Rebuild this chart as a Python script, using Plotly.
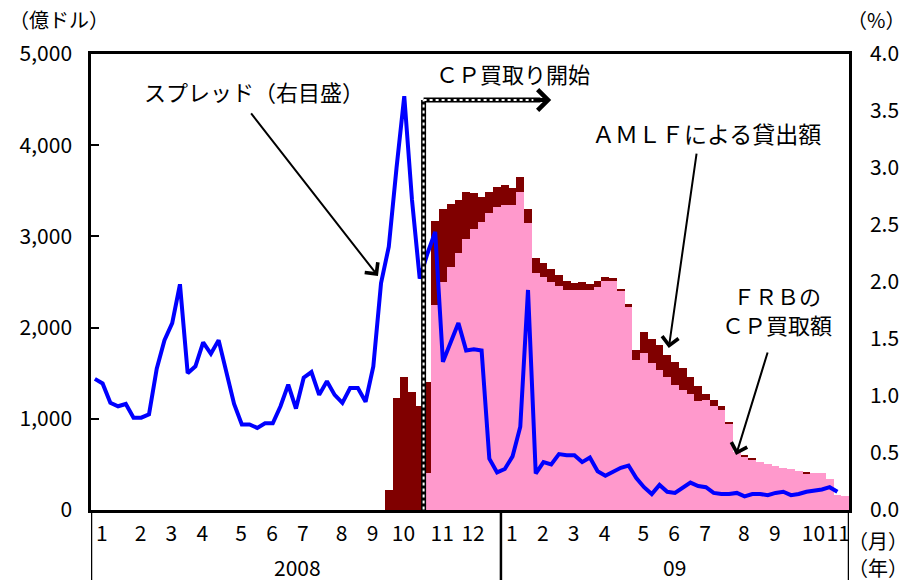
import plotly.graph_objects as go

# weekly data, 2008/1 first week .. 2009/11
weeks = list(range(98))

# FRB CP purchases (億ドル)
cp_frb = [0] * 43 + [
    410, 2250, 2505, 2660, 2820, 2970, 3080, 3155, 3255, 3320,
    3345, 3345, 3490, 3150, 2595, 2550, 2505, 2455, 2410, 2410,
    2410, 2410, 2440, 2510, 2510, 2410, 2230, 1650, 1720, 1610,
    1535, 1460, 1370, 1315, 1275, 1195, 1205, 1140, 1095, 945,
    640, 590, 555, 525, 500, 485, 457, 445, 430, 402,
    402, 402, 335, 160, 155]

# CP purchases + AMLF (億ドル)
total = [0] * 38 + [
    220, 1225, 1455, 1290, 1140,
    1400, 3170, 3300, 3355, 3400, 3490, 3480, 3435, 3490, 3545,
    3565, 3530, 3650, 3300, 2760, 2705, 2640, 2575, 2510, 2485,
    2495, 2475, 2510, 2560, 2540, 2425, 2260, 1755, 1955, 1880,
    1810, 1700, 1625, 1555, 1455, 1365, 1270, 1205, 1135, 955,
    640, 605, 565, 525, 500, 485, 457, 445, 430, 415,
    402, 402, 335, 160, 155]
amlf = [t - c for t, c in zip(total, cp_frb)]

# spread (%)
spread = [
    1.15, 1.11, 0.94, 0.91, 0.93, 0.81, 0.81, 0.84, 1.24, 1.49,
    1.64, 1.98, 1.20, 1.26, 1.47, 1.37, 1.49, 1.20, 0.93, 0.75,
    0.75, 0.72, 0.76, 0.76, 0.91, 1.10, 0.89, 1.16, 1.21, 1.01,
    1.13, 1.01, 0.94, 1.07, 1.07, 0.95, 1.26, 1.99, 2.31, 3.00,
    3.63, 2.72, 2.03, 2.25, 2.44, 1.30, 1.47, 1.64, 1.40, 1.41,
    1.40, 0.45, 0.33, 0.36, 0.47, 0.73, 1.93, 0.32, 0.42, 0.40,
    0.49, 0.48, 0.48, 0.42, 0.46, 0.34, 0.30, 0.34, 0.37, 0.39,
    0.28, 0.20, 0.14, 0.22, 0.16, 0.15, 0.20, 0.24, 0.21, 0.20,
    0.15, 0.14, 0.14, 0.15, 0.12, 0.14, 0.14, 0.13, 0.15, 0.16,
    0.13, 0.14, 0.16, 0.17, 0.18, 0.20, 0.16]

month_start = [0, 5, 9, 13, 18, 22, 26, 31, 35, 39, 44, 48,
               53, 57, 61, 65, 70, 74, 78, 83, 87, 92, 96]
month_labels = ["1", "2", "3", "4", "5", "6", "7", "8", "9", "10", "11", "12",
                "1", "2", "3", "4", "5", "6", "7", "8", "9", "10", "11"]
years = ["2008", "09"]
cp_start = 42.5  # CPFF start (2008/10/27)

FONT = "Noto Sans CJK JP"

fig = go.Figure()
fig.add_trace(go.Bar(x=weeks, y=cp_frb, marker=dict(color="#FF99CC", line=dict(width=0)),
                     yaxis="y"))
fig.add_trace(go.Bar(x=weeks, y=amlf, marker=dict(color="#800000", line=dict(width=0)),
                     yaxis="y"))
fig.add_trace(go.Scatter(x=weeks[:len(spread)], y=spread, mode="lines",
                         line=dict(color="#0000FF", width=4), yaxis="y2"))

tickvals = [s + 0.9 for s in month_start]
tickvals[-1] = month_start[-1] + 0.1

# page body has an 8px margin, so the figure is 8px smaller
fig.update_layout(
    width=903, height=572,
    margin=dict(l=79, r=57, t=46, b=70),
    paper_bgcolor="white", plot_bgcolor="white",
    barmode="stack", bargap=0, showlegend=False,
    font=dict(family=FONT, size=21, color="black"),
    xaxis=dict(range=[-0.5, 97.5], tickvals=tickvals, ticktext=month_labels,
               tickangle=0, showgrid=False, zeroline=False, showline=True,
               linecolor="black", linewidth=2.5, mirror=True, ticks="",
               ticklabelstandoff=3, tickfont=dict(size=21)),
    yaxis=dict(range=[0, 5000], dtick=1000, tickformat=",", showgrid=False,
               zeroline=False, showline=True, linecolor="black", linewidth=2.5,
               ticks="inside", ticklen=8, tickwidth=2, tickcolor="black",
               ticklabelstandoff=12, tickfont=dict(size=21)),
    yaxis2=dict(range=[0, 4], dtick=0.5, tickformat=".1f", overlaying="y",
                side="right", showgrid=False, zeroline=False, showline=True,
                linecolor="black", linewidth=2.5, ticks="",
                ticklabelstandoff=14, tickfont=dict(size=21)),
)

# frame lines extended below the axis, year divider
for xv in [-0.5, 52.5, 97.5]:
    fig.add_shape(type="line", xref="x", yref="paper", x0=xv, x1=xv, y0=-0.154, y1=0,
                  line=dict(color="black", width=2.5))

# CP purchase start marker
arrow_y = 4496
for col, w, dash in [("black", 5, "solid"), ("white", 2, "dot")]:
    fig.add_shape(type="line", xref="x", yref="y", x0=cp_start, x1=cp_start,
                  y0=-60, y1=arrow_y, line=dict(color=col, width=w, dash=dash))
    fig.add_shape(type="line", xref="x", yref="y", x0=cp_start, x1=57.6,
                  y0=arrow_y, y1=arrow_y, line=dict(color=col, width=w, dash=dash))
fig.add_annotation(x=59.0, y=arrow_y, ax=56.5, ay=arrow_y, axref="x", ayref="y",
                   xref="x", yref="y", text="", showarrow=True, arrowhead=4,
                   arrowsize=1, arrowwidth=4, arrowcolor="black")

def label(text, xp, yp, size=21):
    fig.add_annotation(x=xp, y=yp, xref="paper", yref="paper", text=text,
                       showarrow=False, font=dict(size=size, family=FONT),
                       xanchor="center", yanchor="middle")

label("ＣＰ買取り開始", 0.557, 0.958, 22)
label("スプレッド（右目盛）", 0.2145, 0.919, 22)
label("ＡＭＬＦによる貸出額", 0.812, 0.827, 23)
label("ＦＲＢの<br>ＣＰ買取額", 0.905, 0.440, 22)
label("（億ドル）", -0.042, 1.075, 20)
label("（%）", 1.036, 1.075, 20)
label("（月）", 1.038, -0.066, 20)
label("（年）", 1.038, -0.125, 20)
label(years[0], 0.272, -0.125)
label(years[1], 0.770, -0.125)

# pointer arrows
def pointer(x, y, ax, ay):
    fig.add_annotation(x=x, y=y, xref="x", yref="y", ax=ax, ay=ay, text="",
                       showarrow=True, arrowhead=4, arrowsize=1.6, arrowwidth=2,
                       arrowcolor="black")

pointer(36.6, 2566, -128, -164)
pointer(74.2, 1776, 28, -196)
pointer(82.9, 603, 32, -104)

fig.write_html("out.html")
